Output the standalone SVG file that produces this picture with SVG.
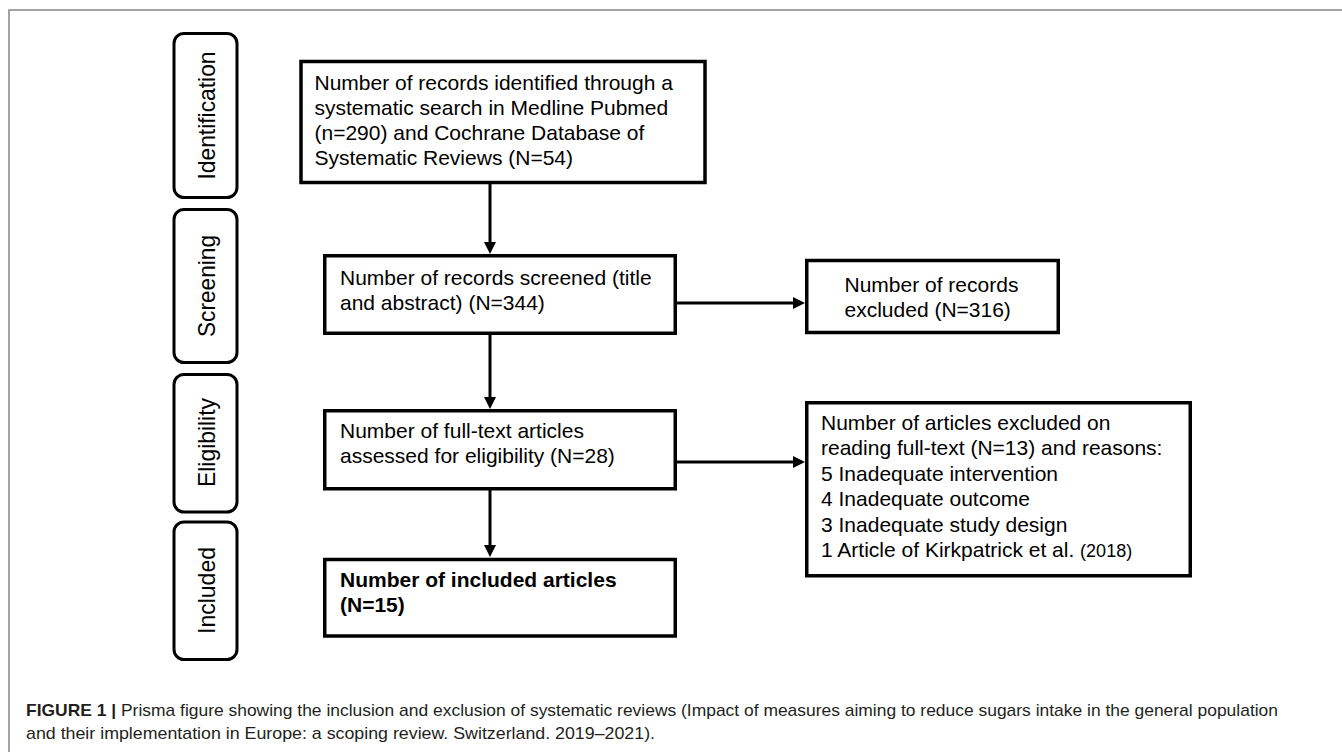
<svg xmlns="http://www.w3.org/2000/svg" width="1342" height="752" viewBox="0 0 1342 752">
<style>
.frame{fill:none;stroke:#858585;stroke-width:1.5}
.stage{fill:#fff;stroke:#000;stroke-width:3}
.box{fill:#fff;stroke:#000;stroke-width:3.5}
.lbl{font-family:"Liberation Sans",Arial,sans-serif;font-size:24px;fill:#000;text-anchor:middle}
.t{font-family:"Liberation Sans",Arial,sans-serif;font-size:21px;fill:#000}
.b{font-weight:bold}
.conn{fill:none;stroke:#000;stroke-width:3}
.cap{font-family:"Liberation Sans",Arial,sans-serif;font-size:17px;fill:#231f20}
</style>
<defs>
<marker id="ah" viewBox="0 0 12 12" refX="2" refY="6" markerWidth="12" markerHeight="12" markerUnits="userSpaceOnUse" orient="auto">
<path d="M0,0 L12,6 L0,12 z" fill="#000"/>
</marker>
</defs>
<rect width="1342" height="752" fill="#fff"/>
<path class="frame" d="M9,752 V10 H1342"/>

<g id="stage-identification">
<rect class="stage" x="174" y="33.5" width="63" height="164" rx="10"/>
<text class="lbl" transform="translate(215,115.5) rotate(-90)" textLength="128" lengthAdjust="spacingAndGlyphs">Identification</text>
</g>
<g id="stage-screening">
<rect class="stage" x="174" y="209.5" width="63" height="153" rx="10"/>
<text class="lbl" transform="translate(215,286) rotate(-90)" textLength="102" lengthAdjust="spacingAndGlyphs">Screening</text>
</g>
<g id="stage-eligibility">
<rect class="stage" x="174" y="374.5" width="63" height="137.5" rx="10"/>
<text class="lbl" transform="translate(215,442.5) rotate(-90)" textLength="89" lengthAdjust="spacingAndGlyphs">Eligibility</text>
</g>
<g id="stage-included">
<rect class="stage" x="174" y="522" width="63" height="137.5" rx="10"/>
<text class="lbl" transform="translate(215,590.5) rotate(-90)" textLength="87" lengthAdjust="spacingAndGlyphs">Included</text>
</g>

<g id="connectors">
<line class="conn" x1="490" y1="184" x2="490" y2="244" marker-end="url(#ah)"/>
<line class="conn" x1="490" y1="335" x2="490" y2="399" marker-end="url(#ah)"/>
<line class="conn" x1="490" y1="490" x2="490" y2="547" marker-end="url(#ah)"/>
<line class="conn" x1="677" y1="303" x2="795" y2="303" marker-end="url(#ah)"/>
<line class="conn" x1="676" y1="462" x2="795" y2="462" marker-end="url(#ah)"/>
</g>

<g id="node-identified">
<rect class="box" x="301" y="61.5" width="404" height="121"/>
<text class="t" x="314.5" y="89.5">Number of records identified through a</text>
<text class="t" x="314.5" y="114.5">systematic search in Medline Pubmed</text>
<text class="t" x="314.5" y="139.5">(n=290) and Cochrane Database of</text>
<text class="t" x="314.5" y="164.5">Systematic Reviews (N=54)</text>
</g>
<g id="node-screened">
<rect class="box" x="324.75" y="255.75" width="350.5" height="77.5"/>
<text class="t" x="340" y="285">Number of records screened (title</text>
<text class="t" x="340" y="310">and abstract) (N=344)</text>
</g>
<g id="node-excluded">
<rect class="box" x="806.75" y="260.5" width="251.5" height="72"/>
<text class="t" x="844.5" y="291.5">Number of records</text>
<text class="t" x="844.5" y="316.5">excluded (N=316)</text>
</g>
<g id="node-fulltext">
<rect class="box" x="324.75" y="410.75" width="350.5" height="78"/>
<text class="t" x="340" y="438">Number of full-text articles</text>
<text class="t" x="340" y="463">assessed for eligibility (N=28)</text>
</g>
<g id="node-included">
<rect class="box" x="324.75" y="559.5" width="350.5" height="76.5"/>
<text class="t b" x="340" y="587">Number of included articles</text>
<text class="t b" x="340" y="612">(N=15)</text>
</g>
<g id="node-articles-excluded">
<rect class="box" x="806.75" y="402.75" width="383.5" height="173"/>
<text class="t" x="821" y="429.5">Number of articles excluded on</text>
<text class="t" x="821" y="455">reading full-text (N=13) and reasons:</text>
<text class="t" x="821" y="480.5">5 Inadequate intervention</text>
<text class="t" x="821" y="506">4 Inadequate outcome</text>
<text class="t" x="821" y="531.5">3 Inadequate study design</text>
<text class="t" x="821" y="557">1 Article of Kirkpatrick et al. <tspan font-size="18">(2018)</tspan></text>
</g>

<g id="caption">
<text class="cap" x="26" y="716" textLength="1252" lengthAdjust="spacingAndGlyphs"><tspan font-weight="bold">FIGURE 1 | </tspan>Prisma figure showing the inclusion and exclusion of systematic reviews (Impact of measures aiming to reduce sugars intake in the general population</text>
<text class="cap" x="26" y="739" textLength="629" lengthAdjust="spacingAndGlyphs">and their implementation in Europe: a scoping review. Switzerland. 2019–2021).</text>
</g>
</svg>
